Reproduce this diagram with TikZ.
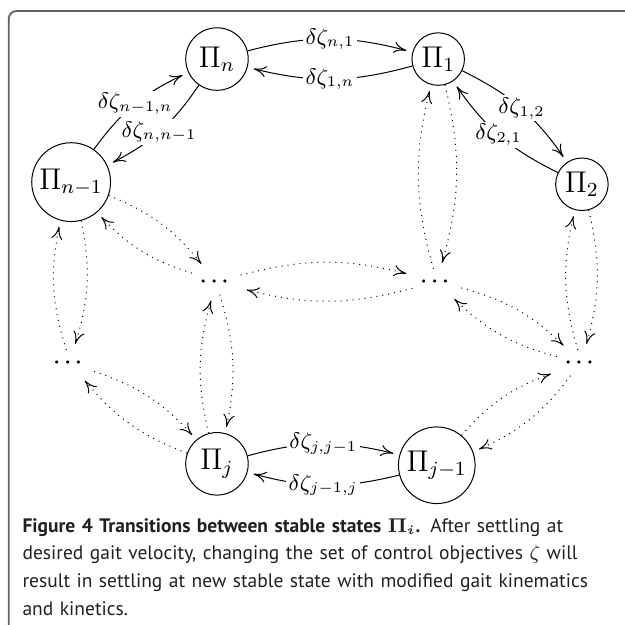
\documentclass[tikz,border=0pt]{standalone}
\usepackage{amssymb,amsmath}
\usepackage{bm}
\usepackage{fontspec}
\setsansfont{PT Sans}
\usepackage[svgnames]{xcolor}
\usetikzlibrary{arrows.meta}
\usetikzlibrary{bending}
\definecolor{framegray}{RGB}{95,95,95}
\definecolor{captext}{RGB}{35,31,32}
\tikzset{state/.style = {circle, draw, inner sep = 1.5pt, minimum size = 21pt, font = \large}}
\tikzset{blank/.style = {inner sep = 3pt, font = \footnotesize}}
\tikzset{lab/.style = {fill = white, inner sep = 1pt, font = \fontsize{8.6}{10}\selectfont}}
\tikzset{trans/.style = {-{To[length=5pt,width=4.5pt]}, shorten > = 2.5pt, bend left = 15}}
\tikzset{maybe/.style = {trans, dotted}}

\begin{document}
\begin{tikzpicture}
      \useasboundingbox (0,0) rectangle (8.786,-8.772);
      % Draw frame
      \draw[framegray, line width = 0.7pt, rounded corners = 3pt] (0.124,-9.5) -- (0.124,-0.155) -- (9.5,-0.155);

      % States
      \node[state, minimum size = 25pt] (pn) at (3.05,-0.83) {$\Pi_n$};
      \node[state] (p1) at (6.16,-0.83) {$\Pi_1$};
      \node[state] (pn1) at (1.00,-2.56) {$\Pi_{n-1}$};
      \node[state] (p2) at (8.18,-2.59) {$\Pi_2$};
      \node[blank] (dl) at (3.04,-3.96) {$\bm{\cdots}$};
      \node[blank] (dr) at (6.14,-3.96) {$\bm{\cdots}$};
      \node[blank] (dlb) at (0.98,-5.10) {$\bm{\cdots}$};
      \node[blank] (drb) at (8.17,-5.10) {$\bm{\cdots}$};
      \node[state, minimum size = 25pt] (pj) at (3.05,-6.52) {$\Pi_j$};
      \node[state] (pj1) at (6.14,-6.54) {$\Pi_{j-1}$};

      % Labelled transitions
      \draw[trans] (pn) to node[lab] {$\delta\zeta_{n,1}$} (p1);
      \draw[trans] (p1) to node[lab] {$\delta\zeta_{1,n}$} (pn);
      \draw[trans] (pn1) to node[lab] {$\delta\zeta_{n-1,n}$} (pn);
      \draw[trans] (pn) to node[lab] {$\delta\zeta_{n,n-1}$} (pn1);
      \draw[trans] (p1) to node[lab] {$\delta\zeta_{1,2}$} (p2);
      \draw[trans] (p2) to node[lab] {$\delta\zeta_{2,1}$} (p1);
      \draw[trans] (pj) to node[lab] {$\delta\zeta_{j,j-1}$} (pj1);
      \draw[trans] (pj1) to node[lab] {$\delta\zeta_{j-1,j}$} (pj);

      % Unlabelled transitions
      \draw[maybe] (pn1) to (dl);   \draw[maybe] (dl) to (pn1);
      \draw[maybe] (pn1) to (dlb);  \draw[maybe] (dlb) to (pn1);
      \draw[maybe] (p1) to (dr);    \draw[maybe] (dr) to (p1);
      \draw[maybe] (p2) to (drb);   \draw[maybe] (drb) to (p2);
      \draw[maybe] (dl) to (dr);    \draw[maybe] (dr) to (dl);
      \draw[maybe] (dl) to (pj);    \draw[maybe] (pj) to (dl);
      \draw[maybe] (dlb) to (pj);   \draw[maybe] (pj) to (dlb);
      \draw[maybe] (dr) to (drb);   \draw[maybe] (drb) to (dr);
      \draw[maybe] (drb) to (pj1);  \draw[maybe] (pj1) to (drb);

      % Caption
      \node[anchor = north west, inner sep = 0pt, text width = 245pt, align = left, text = captext,
            font = \sffamily\fontsize{7.8}{11.08}\selectfont] (cap) at (0.31,-7.28)
        {\textbf{Figure 4 Transitions between stable states $\boldsymbol{\Pi_i}$.} After settling at\\
         desired gait velocity, changing the set of control objectives $\zeta$ will\\
         result in settling at new stable state with modified gait kinematics\\
         and kinetics.};
\end{tikzpicture}
\end{document}
